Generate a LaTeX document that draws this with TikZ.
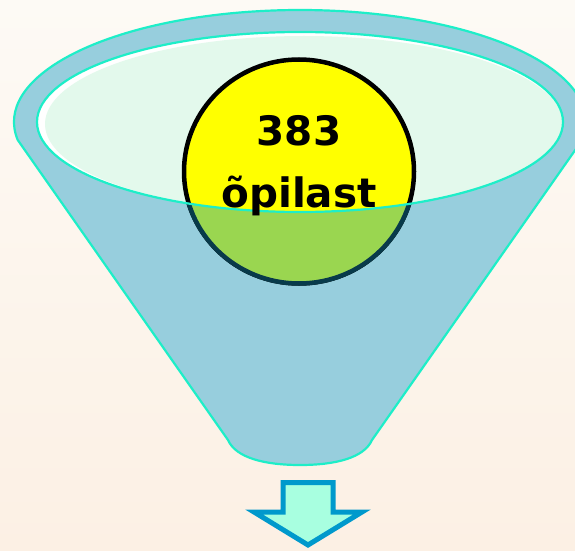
\documentclass[tikz,border=0pt]{standalone}
\usepackage{fontspec}
\newfontfamily\labelfont{DejaVu Sans}
\definecolor{bgtop}{RGB}{253,250,245}
\definecolor{bgbot}{RGB}{252,240,228}
\definecolor{funnelblue}{RGB}{151,206,221}
\definecolor{rimcyan}{RGB}{30,238,200}
\definecolor{mint}{RGB}{227,249,236}
\definecolor{ballyellow}{RGB}{255,255,0}
\definecolor{ballgreen}{RGB}{154,214,80}
\definecolor{balldark}{RGB}{8,58,74}
\definecolor{arrowstroke}{RGB}{0,153,204}
\definecolor{arrowfill}{RGB}{168,255,224}
\tikzset{
  rim/.style={draw=rimcyan, line width=2.2pt},
  balltext/.style={font=\labelfont\bfseries\fontsize{40.5}{46}\selectfont, text=black, inner sep=0pt, anchor=base},
  downarrow/.style={draw=arrowstroke, fill=arrowfill, line width=5pt, miter limit=10}
}
\begin{document}
\begin{tikzpicture}[x=1pt,y=1pt]
\useasboundingbox (0,0) rectangle (575,550);
\shade[top color=bgtop, bottom color=bgbot] (0,0) rectangle (575,550);
\clip (0,0) rectangle (575,550);
% funnel body
\path[fill=funnelblue, rim]
  (300,428) ++(189.2:286 and 112) coordinate (ls)
  arc[start angle=189.2, end angle=-9.2, x radius=286, y radius=112]
  -- (372,110)
  .. controls (364,92) and (335,85) .. (300,85)
  .. controls (265,85) and (236,92) .. (228,110)
  -- cycle;
% inner opening
\fill[white] (300,428) ellipse[x radius=263, y radius=90];
\begin{scope}
  \clip (300,428) ellipse[x radius=263, y radius=90];
  \fill[mint] (304,426) ellipse[x radius=259, y radius=88];
\end{scope}
% ball
\fill[ballyellow] (299,378.5) ellipse[x radius=115, y radius=112];
\draw[black, line width=4.5pt] (299,378.5) ellipse[x radius=115, y radius=112];
\begin{scope}
  \clip (37,428) arc[start angle=180, end angle=360, x radius=263, y radius=90] -- (600,-10) -- (0,-10) -- cycle;
  \fill[ballgreen] (299,378.5) ellipse[x radius=115, y radius=112];
  \draw[balldark, line width=4.5pt] (299,378.5) ellipse[x radius=115, y radius=112];
\end{scope}
% inner rim outline
\draw[rim] (300,428) ellipse[x radius=263, y radius=90];
% text
\node[balltext] (num) at (299,405) {383};
\node[balltext] (lbl) at (299,343) {õpilast};
% arrow
\draw[downarrow] (283,67.5) -- (333,67.5) -- (333,38) -- (362,38) -- (308,5) -- (254,38) -- (283,38) -- cycle;
\end{tikzpicture}
\end{document}
